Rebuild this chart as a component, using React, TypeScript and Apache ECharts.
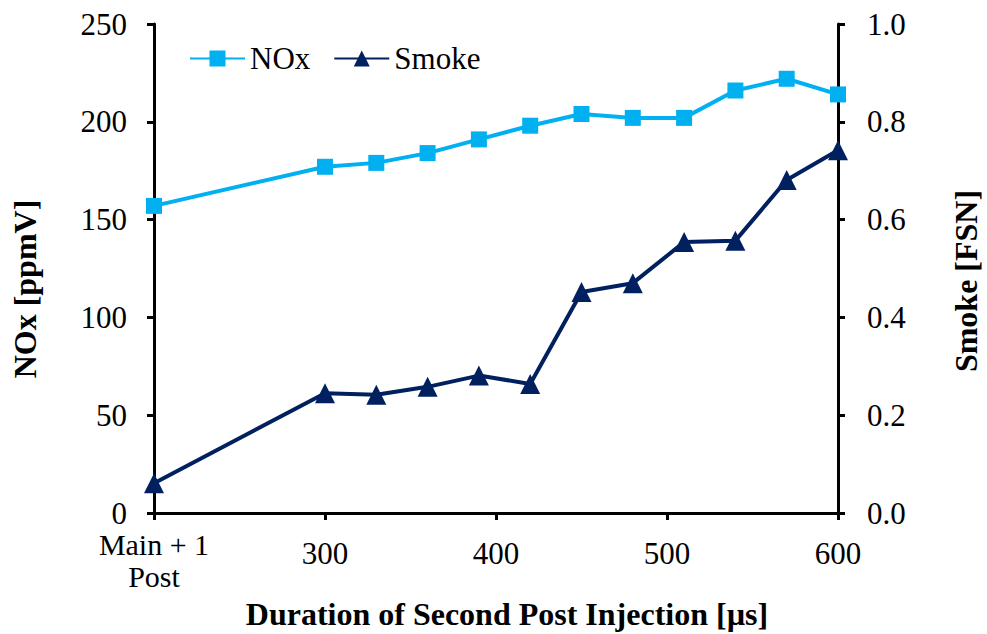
import React, { useEffect, useRef } from "react";
import * as echarts from "echarts";

const durations = [200, 300, 330, 360, 390, 420, 450, 480, 510, 540, 570, 600];
const noxValues = [157, 177, 179, 184, 191, 198, 204, 202, 202, 216, 222, 214];
const smokeValues = [0.061, 0.245, 0.242, 0.258, 0.281, 0.264, 0.452, 0.47, 0.554, 0.557, 0.681, 0.742];
const firstLabel = ["Main + 1", "Post"];
const seriesNames = ["NOx", "Smoke"];
const xTitle = "Duration of Second Post Injection [µs]";
const yLeftTitle = "NOx [ppmV]";
const yRightTitle = "Smoke [FSN]";

const FONT = "'Liberation Serif', 'Times New Roman', serif";

export default function App() {
  const ref = useRef<HTMLDivElement>(null);
  useEffect(() => {
    if (!ref.current) return;
    const chart = echarts.init(ref.current, undefined, { renderer: "svg" });
    const axisLine = { show: true, lineStyle: { color: "#000", width: 3 } };
    const axisTick = { show: true, inside: false, length: 7, lineStyle: { color: "#000", width: 3 } };
    chart.setOption({
      animation: false,
      textStyle: { fontFamily: FONT },
      grid: { left: 154, right: 149, top: 24, bottom: 121, containLabel: false },
      legend: {
        left: 189,
        top: 43,
        padding: 0,
        itemWidth: 55,
        itemHeight: 20,
        itemGap: 23,
        textStyle: { fontFamily: FONT, fontSize: 31, color: "#000" },
        data: seriesNames,
      },
      xAxis: {
        type: "value",
        min: 200,
        max: 600,
        interval: 100,
        axisLine,
        axisTick,
        splitLine: { show: false },
        axisLabel: {
          margin: 15,
          verticalAlign: "top",
          color: "#000",
          fontFamily: FONT,
          fontSize: 31,
          formatter: (v: number) =>
            v === 200 ? firstLabel.map((t) => `{m|${t}}`).join("\n") : `{n|${v}}`,
          rich: {
            m: { fontFamily: FONT, fontSize: 30, lineHeight: 32, color: "#000" },
            n: { fontFamily: FONT, fontSize: 31, lineHeight: 50, color: "#000" },
          },
        },
      },
      yAxis: [
        {
          type: "value",
          position: "left",
          min: 0,
          max: 250,
          interval: 50,
          axisLine,
          axisTick,
          splitLine: { show: false },
          axisLabel: { margin: 27, color: "#000", fontFamily: FONT, fontSize: 31, lineHeight: 28 },
        },
        {
          type: "value",
          position: "right",
          min: 0,
          max: 1,
          interval: 0.2,
          axisLine,
          axisTick,
          splitLine: { show: false },
          axisLabel: {
            margin: 29,
            color: "#000",
            fontFamily: FONT,
            fontSize: 31,
            lineHeight: 28,
            formatter: (v: number) => v.toFixed(1),
          },
        },
      ],
      graphic: [
        {
          type: "text",
          x: 507,
          y: 614,
          style: {
            text: xTitle,
            font: `bold 32px ${FONT}`,
            fill: "#000",
            textAlign: "center",
            textVerticalAlign: "middle",
          },
        },
        {
          type: "text",
          x: 25,
          y: 289,
          rotation: Math.PI / 2,
          style: {
            text: yLeftTitle,
            font: `bold 32px ${FONT}`,
            fill: "#000",
            textAlign: "center",
            textVerticalAlign: "middle",
          },
        },
        {
          type: "text",
          x: 966,
          y: 281,
          rotation: Math.PI / 2,
          style: {
            text: yRightTitle,
            font: `bold 32px ${FONT}`,
            fill: "#000",
            textAlign: "center",
            textVerticalAlign: "middle",
          },
        },
      ],
      series: [
        {
          name: seriesNames[0],
          type: "line",
          yAxisIndex: 0,
          data: durations.map((d, i) => [d, noxValues[i]]),
          symbol: "rect",
          symbolSize: 16,
          lineStyle: { color: "#00B0F0", width: 4 },
          itemStyle: { color: "#00B0F0" },
        },
        {
          name: seriesNames[1],
          type: "line",
          yAxisIndex: 1,
          data: durations.map((d, i) => [d, smokeValues[i]]),
          symbol: "triangle",
          symbolSize: 20,
          lineStyle: { color: "#002060", width: 4 },
          itemStyle: { color: "#002060" },
        },
      ],
    });
    return () => chart.dispose();
  }, []);
  return (
    <div
      ref={ref}
      style={{ position: "fixed", left: 0, top: 0, width: 987, height: 634, background: "#fff" }}
    />
  );
}
